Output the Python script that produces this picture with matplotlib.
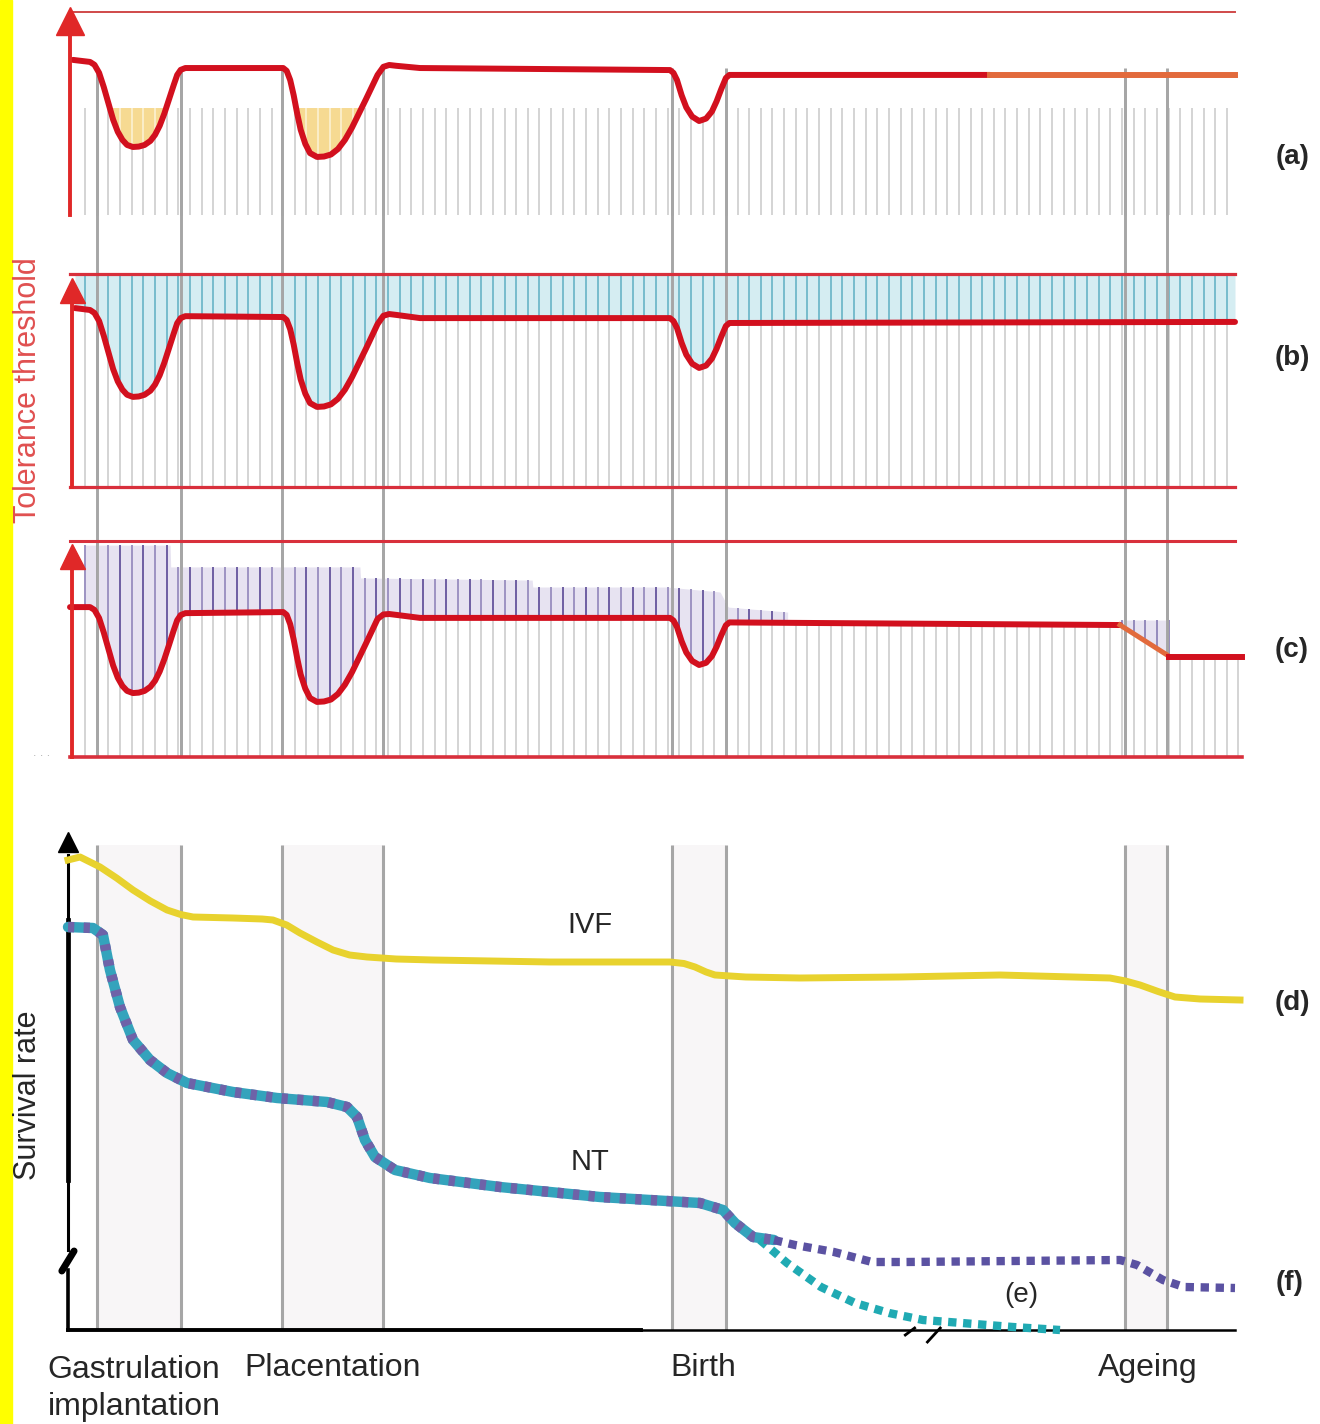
import numpy as np
import matplotlib
matplotlib.use("Agg")
import matplotlib.pyplot as plt
from matplotlib.patches import Rectangle

plt.rcParams['font.family'] = ['Liberation Sans', 'DejaVu Sans']

# ---------------- data (schematic: time 0-100, value 0-1 per panel) ----------------
stage_t = [2.3, 9.5, 18.2, 26.9, 51.7, 56.3, 90.6, 94.2]
stage_bands = [(2.3, 9.5), (18.2, 26.9), (51.7, 56.3), (90.6, 94.2)]
stage_labels = ["Gastrulation\nimplantation", "Placentation", "Birth", "Ageing"]
stage_label_t = [-1.9, 15.0, 51.5, 88.2]

# time points shared by the three tolerance curves
dip1_t = [1.72, 2.1, 2.5, 2.9, 3.3, 3.7, 4.1, 4.5, 4.9, 5.4, 5.9, 6.4, 6.9, 7.3, 7.7, 8.1, 8.5, 8.9, 9.2, 9.5, 9.9]
dip2_t = [18.3, 18.6, 18.9, 19.2, 19.5, 19.8, 20.2, 20.6, 21.2, 21.8, 22.4, 23.0, 23.6, 24.2, 24.8,
          25.4, 25.9, 26.4, 26.9, 27.4, 28.0]
birth_t = [51.5, 51.8, 52.1, 52.5, 52.9, 53.4, 54.0, 54.6, 55.1, 55.5, 55.9, 56.3, 56.6]

# (a) tolerance threshold curve
a_t = [0.26] + dip1_t + dip2_t + [30.04] + birth_t + [78.97]
a_v = ([0.764] +
       [0.754, 0.74, 0.70, 0.63, 0.55, 0.47, 0.41, 0.37, 0.345, 0.335, 0.337, 0.345, 0.365, 0.395,
        0.44, 0.50, 0.57, 0.64, 0.69, 0.715, 0.724] +
       [0.724, 0.71, 0.665, 0.59, 0.50, 0.42, 0.35, 0.305, 0.286, 0.288, 0.298, 0.325, 0.37, 0.43,
        0.50, 0.57, 0.63, 0.69, 0.73, 0.739, 0.735] +
       [0.724] +
       [0.714, 0.70, 0.665, 0.59, 0.53, 0.485, 0.463, 0.475, 0.51, 0.56, 0.62, 0.675, 0.69] +
       [0.690])
a_late_t = [78.97, 100.0]
a_late_v = [0.690, 0.690]
a_band_top = 0.527

# (b)
b_t = [0.43] + dip1_t + dip2_t + [30.04] + birth_t + [100.0]
b_v = ([0.840] +
       [0.831, 0.817, 0.779, 0.710, 0.632, 0.554, 0.496, 0.457, 0.433, 0.423, 0.425, 0.433, 0.452,
        0.481, 0.525, 0.584, 0.652, 0.720, 0.769, 0.793, 0.802] +
       [0.798, 0.784, 0.741, 0.669, 0.582, 0.505, 0.438, 0.394, 0.376, 0.378, 0.388, 0.414, 0.457,
        0.515, 0.582, 0.649, 0.707, 0.765, 0.804, 0.812, 0.808] +
       [0.793] +
       [0.793, 0.779, 0.747, 0.677, 0.621, 0.579, 0.559, 0.570, 0.603, 0.649, 0.705, 0.756, 0.770] +
       [0.775])

# (c)
c_t = [0.0] + dip1_t + dip2_t + [30.04] + birth_t + [90.13]
c_v = ([0.694] +
       [0.694, 0.681, 0.643, 0.576, 0.500, 0.424, 0.367, 0.329, 0.306, 0.296, 0.298, 0.306, 0.325,
        0.353, 0.396, 0.453, 0.519, 0.586, 0.633, 0.657, 0.666] +
       [0.671, 0.658, 0.615, 0.544, 0.458, 0.382, 0.316, 0.273, 0.255, 0.257, 0.266, 0.292, 0.335,
        0.392, 0.458, 0.525, 0.582, 0.639, 0.660, 0.662, 0.658] +
       [0.644] +
       [0.644, 0.632, 0.602, 0.536, 0.484, 0.445, 0.426, 0.436, 0.467, 0.510, 0.563, 0.610, 0.623] +
       [0.611])
c_slope_t = [90.13, 94.3]
c_slope_v = [0.611, 0.468]
c_late_t = [94.3, 100.6]
c_late_v = [0.463, 0.463]
c_top_t = [1.3, 8.6, 8.61, 24.9, 24.91, 39.7, 39.71, 51.2, 55.8, 56.5, 61.6]
c_top_v = [0.981, 0.981, 0.880, 0.880, 0.829, 0.819, 0.787, 0.787, 0.764, 0.694, 0.671]
c_age_top = 0.634

# (d) survival rates
ivf_t = [-0.17, 0.86, 2.58, 4.0, 5.41, 6.9, 8.33, 9.5, 10.56, 13.99, 16.5, 17.42, 18.6, 19.74,
         21.2, 22.58, 24.0, 25.49, 28.0, 31.16, 41.20, 51.50, 52.7, 53.65, 54.6, 55.36, 58.0,
         62.66, 71.24, 79.83, 89.27, 90.6, 91.85, 93.4, 94.85, 97.0, 100.43]
ivf_v = [0.940, 0.946, 0.926, 0.904, 0.880, 0.858, 0.840, 0.831, 0.826, 0.824, 0.822, 0.820,
         0.810, 0.794, 0.776, 0.760, 0.750, 0.746, 0.742, 0.740, 0.736, 0.736, 0.733, 0.726,
         0.716, 0.710, 0.706, 0.704, 0.706, 0.710, 0.704, 0.698, 0.690, 0.677, 0.666, 0.662, 0.660]
nt_t = [-0.17, 1.97, 2.83, 3.43, 4.29, 5.41, 6.87, 8.33, 10.04, 13.99, 17.77, 22.06, 23.78,
        24.64, 25.32, 26.18, 27.90, 30.90, 36.91, 45.49, 54.08, 56.05, 57.08, 58.63, 60.43]
nt_v = [0.806, 0.804, 0.790, 0.720, 0.646, 0.580, 0.540, 0.514, 0.494, 0.476, 0.464, 0.456, 0.446,
        0.426, 0.380, 0.346, 0.320, 0.304, 0.286, 0.266, 0.254, 0.240, 0.214, 0.186, 0.180]
f_t = [60.43, 62.23, 65.58, 68.84, 71.76, 90.13, 91.59, 93.82, 95.62, 100.0]
f_v = [0.180, 0.170, 0.156, 0.136, 0.136, 0.140, 0.130, 0.100, 0.086, 0.084]
e_t = [59.23, 61.55, 64.46, 67.38, 70.30, 73.22, 75.45, 80.94, 84.98]
e_v = [0.180, 0.134, 0.086, 0.054, 0.034, 0.020, 0.016, 0.006, 0.0]

# ---------------- styling ----------------
W, H = 1320, 1424
RED = '#D2101E'
RED_BOX = '#D8303C'
ORANGE = '#E26A3C'
GRAY = '#C9C9C9'
STAGE = '#A6A6A6'
TXT = '#262626'
XPX0, XSCALE = 70.0, 11.65            # pixel of t=0, pixels per unit t
XLIM = (-XPX0 / XSCALE, (W - XPX0) / XSCALE)

fig = plt.figure(figsize=(W / 100, H / 100), dpi=100)
fig.add_artist(Rectangle((0, 0), 12 / W, 1, transform=fig.transFigure,
                         color='#FFFF00', zorder=0))


def px_axes(top, bottom, z=1):
    ax = fig.add_axes([0, 1 - bottom / H, 1, (bottom - top) / H], zorder=z)
    ax.set_xlim(*XLIM)
    ax.set_ylim(0, 1)
    ax.axis('off')
    return ax


def unclip(ax):
    for art in ax.get_children():
        try:
            art.set_clip_on(False)
        except Exception:
            pass


CURVE_KW = dict(color=RED, lw=4.3, solid_joinstyle='round', solid_capstyle='round', zorder=4)

# backdrop for stage lines crossing the three upper panels
axs = px_axes(12, 757, z=0)
axs.vlines(stage_t, 0, (757 - 68) / 745, color=STAGE, lw=2.1)

hatch = np.arange(1.3, 99.6, 1.0)
hatch_c = np.arange(1.3, 100.6, 1.0)

# ---------------- panel (a) ----------------
ax = px_axes(12, 215)
ca = np.interp(hatch, a_t, a_v)
ax.vlines(hatch, 0, np.minimum(ca, a_band_top), color=GRAY, lw=1.1, zorder=2)
tt = np.linspace(a_t[0], 30, 600)
cv = np.interp(tt, a_t, a_v)
ax.fill_between(tt, cv, a_band_top, where=cv < a_band_top, interpolate=True,
                color='#F6DA92', lw=0, zorder=1)
m = (ca < a_band_top) & (hatch < 30)
ax.vlines(hatch[m], ca[m], a_band_top, color='#FCF1D2', lw=1.2, zorder=2)
for s in stage_t:
    ax.vlines(s, 0, np.interp(s, a_t, a_v), color=STAGE, lw=2.1, zorder=2.5)
ax.plot(a_t, a_v, **CURVE_KW)
ax.plot(a_late_t, a_late_v, color=ORANGE, lw=4.3, zorder=4)
ax.plot([0, 100], [1, 1], color='#D04A4A', lw=1.4, zorder=3)
ax.plot([0, 0], [0, 0.9], color='#E02828', lw=2.8, zorder=4)
ax.plot([0], [0.955], marker='^', ms=20, color='#E02828', zorder=4)
ax.text(104.9, 0.286, '(a)', fontsize=20, fontweight='bold', color=TXT, ha='center', va='center')
unclip(ax)

# ---------------- panel (b) ----------------
ax = px_axes(274, 487)
cb = np.interp(hatch, b_t, b_v)
tt = np.linspace(b_t[0], 100, 1200)
ax.fill_between(tt, np.interp(tt, b_t, b_v), 1, color='#D5EDF2', lw=0, zorder=1)
ax.vlines(hatch, cb, 1, color='#5EAFC3', lw=1.1, zorder=2)
ax.vlines(hatch, 0, cb, color=GRAY, lw=1.1, zorder=2)
ax.vlines(stage_t, 0, 1, color=STAGE, lw=2.1, zorder=2.5)
ax.plot(b_t, b_v, **CURVE_KW)
ax.plot([0, 100], [1, 1], color=RED_BOX, lw=2.3, zorder=3)
ax.plot([0, 100], [0, 0], color=RED_BOX, lw=2.3, zorder=3)
ax.plot([0.17, 0.17], [0, 0.88], color='#E02828', lw=2.8, zorder=4)
ax.plot([0.17], [0.925], marker='^', ms=18, color='#E02828', zorder=4)
ax.text(104.9, 0.606, '(b)', fontsize=20, fontweight='bold', color=TXT, ha='center', va='center')
unclip(ax)

# ---------------- panel (c) ----------------
ax = px_axes(541, 757)
cf_t = c_t + c_slope_t[1:] + c_late_t[1:]
cf_v = c_v + c_slope_v[1:] + c_late_v[1:]
cc = np.interp(hatch_c, cf_t, cf_v)
tt = np.linspace(c_top_t[0], c_top_t[-1], 1200)
top = np.interp(tt, c_top_t, c_top_v)
cur = np.interp(tt, cf_t, cf_v)
ax.fill_between(tt, cur, top, where=top > cur, interpolate=True, color='#E7E3F1', lw=0, zorder=1)
ta = np.linspace(c_slope_t[0], c_slope_t[-1], 100)
sa = np.interp(ta, c_slope_t, c_slope_v)
ax.fill_between(ta, sa, c_age_top, where=c_age_top > sa, color='#E7E3F1', lw=0, zorder=1)
ct = np.interp(hatch_c, c_top_t, c_top_v)
inside = (hatch_c >= c_top_t[0]) & (hatch_c <= c_top_t[-1]) & (ct > cc)
for i, h in enumerate(hatch_c):
    if inside[i]:
        ax.vlines(h, cc[i], ct[i], color='#6E5FA2' if i % 2 else '#9D93C2', lw=1.4, zorder=2)
age = (hatch_c > c_slope_t[0]) & (hatch_c < c_slope_t[-1])
ax.vlines(hatch_c[age], cc[age], c_age_top, color='#8E84B8', lw=1.3, zorder=2)
ax.vlines(hatch_c, 0, cc, color=GRAY, lw=1.1, zorder=2)
ax.vlines(stage_t, 0, 1, color=STAGE, lw=2.1, zorder=2.5)
ax.plot(c_t, c_v, **CURVE_KW)
ax.plot(c_slope_t, c_slope_v, color=ORANGE, lw=3.6, zorder=4)
ax.plot(c_late_t, c_late_v, color=RED, lw=4.3, zorder=4)
ax.plot([0, 100], [1, 1], color=RED_BOX, lw=2.2, zorder=3)
ax.plot([0, 100.6], [0, 0], color=RED_BOX, lw=2.6, zorder=3)
ax.plot([0.17, 0.17], [0, 0.87], color='#E02828', lw=2.8, zorder=4)
ax.plot([0.17], [0.93], marker='^', ms=18, color='#E02828', zorder=4)
ax.text(-2.4, 0.02, '. . .', fontsize=9, color='#B0B0B0', ha='center', va='center')
ax.text(104.9, 0.495, '(c)', fontsize=20, fontweight='bold', color=TXT, ha='center', va='center')
unclip(ax)

# ---------------- panel (d) ----------------
ax = px_axes(830, 1330)
for s0, s1 in stage_bands:
    ax.axvspan(s0, s1, ymin=0, ymax=0.97, color='#F8F6F7', lw=0, zorder=0)
ax.vlines(stage_t, 0, 0.97, color=STAGE, lw=2.2, zorder=1)
ax.plot(ivf_t, ivf_v, color='#E8D22E', lw=5, solid_joinstyle='round', zorder=3)
ax.plot(nt_t, nt_v, color='#34A3BC', lw=7.5, solid_joinstyle='round', solid_capstyle='round', zorder=3)
ax.plot(nt_t, nt_v, color='#6E62A8', lw=7.5, dashes=(0.6, 0.9), zorder=3.1)
ax.plot(f_t, f_v, color='#5B52A2', lw=6, dashes=(1.0, 0.8), zorder=3)
ax.plot(e_t, e_v, color='#20AAB3', lw=6, dashes=(1.0, 0.8), zorder=3)
# axes
ax.plot([-0.17, 49], [0, 0], color='black', lw=2.8, zorder=2)
ax.plot([49, 100], [0, 0], color='black', lw=1.8, zorder=2)
ax.plot([71.7, 72.5], [-0.01, 0.004], color='black', lw=2, zorder=2)
ax.plot([73.6, 74.7], [-0.024, 0.004], color='black', lw=2, zorder=2)
ax.plot([-0.17, -0.17], [0.16, 0.95], color='black', lw=2.2, zorder=2)
ax.plot([-0.17, -0.17], [0.30, 0.82], color='black', lw=3.4, zorder=2)
ax.plot([-0.17, -0.17], [0, 0.12], color='black', lw=2.6, zorder=2)
ax.plot([-0.7, 0.35], [0.118, 0.158], color='black', lw=5, solid_capstyle='round', zorder=2)
ax.plot([-0.17], [0.976], marker='^', ms=15, color='black', zorder=2)
ax.text(44.6, 0.81, 'IVF', fontsize=21, color=TXT, ha='center', va='center')
ax.text(44.6, 0.336, 'NT', fontsize=21, color=TXT, ha='center', va='center')
ax.text(104.9, 0.654, '(d)', fontsize=20, fontweight='bold', color=TXT, ha='center', va='center')
ax.text(104.7, 0.094, '(f)', fontsize=20, fontweight='bold', color=TXT, ha='center', va='center')
ax.text(81.7, 0.07, '(e)', fontsize=20, color=TXT, ha='center', va='center')
for lab, lt in zip(stage_labels, stage_label_t):
    if '\n' in lab:
        ax.text(lt, -0.05, lab, fontsize=23, color=TXT, ha='left', va='top', linespacing=1.3)
    else:
        ax.text(lt, -0.076, lab, fontsize=23, color=TXT, ha='left', va='center')
unclip(ax)

fig.text(28 / W, 1 - 390 / H, 'Tolerance threshold', rotation=90, fontsize=22,
         color='#E05050', ha='center', va='center')
fig.text(28 / W, 1 - 1095 / H, 'Survival rate', rotation=90, fontsize=22,
         color=TXT, ha='center', va='center')

fig.savefig('out.png', dpi=100)
